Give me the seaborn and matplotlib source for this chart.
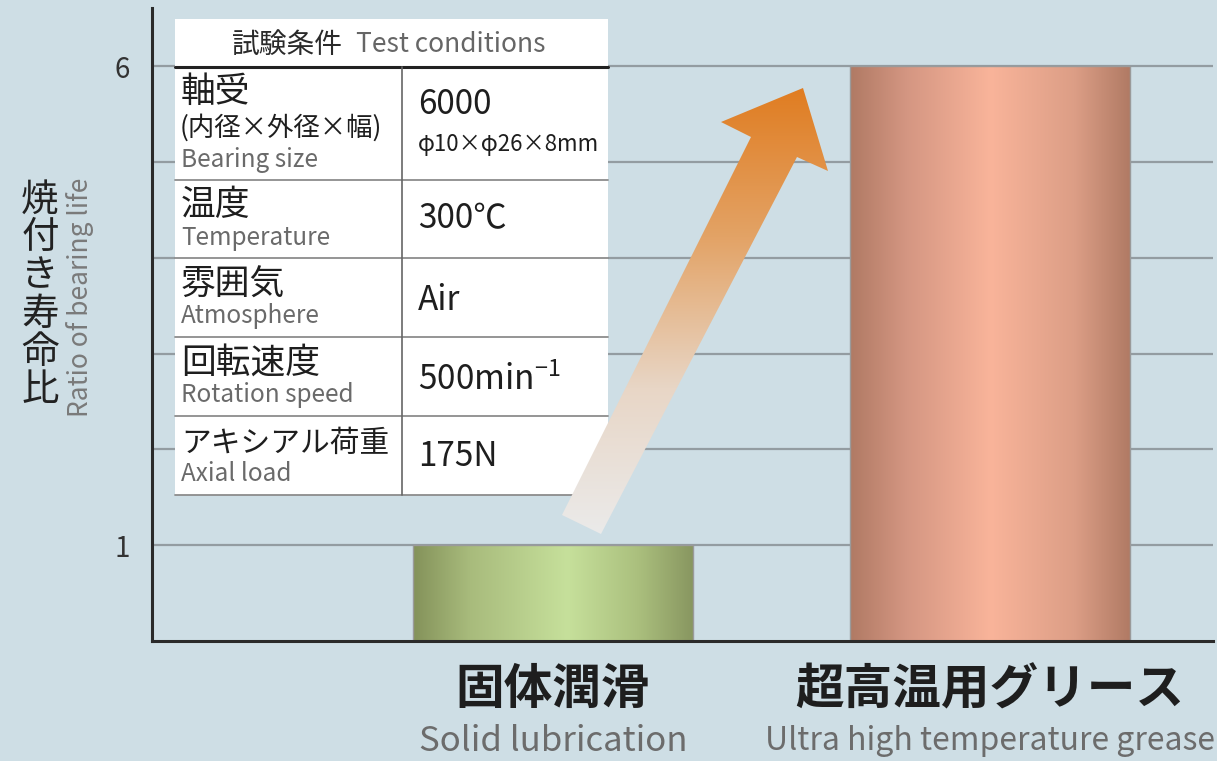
import numpy as np
import pandas as pd
import seaborn as sns
import matplotlib.pyplot as plt
from matplotlib.colors import LinearSegmentedColormap
from matplotlib.patches import Polygon, Rectangle

# データ
cat_jp = ['固体潤滑', '超高温用グリース']
cat_en = ['Solid lubrication', 'Ultra high temperature grease']
ratio = [1, 6]
yticks = [1, 2, 3, 4, 5, 6]
ytick_labels = ['1', '', '', '', '', '6']

cond_jp = ['軸受', '温度', '雰囲気', '回転速度', 'アキシアル荷重']
cond_sub = ['(内径×外径×幅)', '', '', '', '']
cond_en = ['Bearing size', 'Temperature', 'Atmosphere', 'Rotation speed', 'Axial load']
cond_val = ['6000', '300℃', 'Air', '500min$^{\\mathregular{-1}}$', '175N']
cond_val_sub = ['φ10×φ26×8mm', '', '', '', '']

sns.set_style('white')
plt.rcParams['font.family'] = ['Noto Sans CJK JP', 'DejaVu Sans']
plt.rcParams['mathtext.fontset'] = 'custom'
plt.rcParams['mathtext.rm'] = 'Noto Sans CJK JP'

bg = '#cedee5'
fig = plt.figure(figsize=(12.17, 7.61), dpi=100, facecolor=bg)
ax = fig.add_axes([152 / 1217, 120 / 761, 1061 / 1217, 633 / 761])
ax.set_facecolor(bg)

df = pd.DataFrame({'cat': cat_en, 'ratio': ratio})
sns.barplot(data=df, x='cat', y='ratio', width=0.6415, ax=ax,
            edgecolor='#9a9a9a', linewidth=1, zorder=3)

# 円柱風グラデーション
cmaps = [
    LinearSegmentedColormap.from_list('g', [(0, '#84925a'), (0.2, '#a8bb7c'), (0.55, '#c6e09b'),
                                            (0.8, '#abc07e'), (1, '#889660')]),
    LinearSegmentedColormap.from_list('o', [(0, '#b07a64'), (0.2, '#d49682'), (0.5, '#f9b49a'),
                                            (0.8, '#dc9e86'), (1, '#b07a64')]),
]
grad = np.linspace(0, 1, 256).reshape(1, -1)
for p, cm in zip(ax.patches, cmaps):
    x0, y0, w, h = p.get_x(), p.get_y(), p.get_width(), p.get_height()
    p.set_facecolor('none')
    im = ax.imshow(grad, extent=[x0, x0 + w, y0, y0 + h], aspect='auto', cmap=cm, zorder=2.9)
    im.set_clip_path(p)

ax.set_xlim(-0.9187, 1.512)
ax.set_ylim(0, 6.607)
ax.set_yticks(yticks)
ax.set_yticklabels(ytick_labels, fontsize=20, color='#333333')
ax.tick_params(axis='y', length=0, pad=16)
ax.set_xticks([])
ax.set_xlabel('')
ax.set_ylabel('')
for y in yticks:
    ax.axhline(y, color='#939ca1', lw=1.6, zorder=1)
for s in ['top', 'right']:
    ax.spines[s].set_visible(False)
for s in ['left', 'bottom']:
    ax.spines[s].set_color('#2a2a2a')
    ax.spines[s].set_linewidth(2.2)
    ax.spines[s].set_zorder(5)

tr = ax.get_xaxis_transform()
en_sizes = [25, 23]
for i, (j, e) in enumerate(zip(cat_jp, cat_en)):
    ax.text(i, -0.077, j, transform=tr, ha='center', va='center', fontsize=35,
            fontweight='bold', color='#1e1e1e')
    ax.text(i, -0.158, e, transform=tr, ha='center', va='center', fontsize=en_sizes[i],
            color='#6c6c6c')

# 縦軸ラベル
fig.text(40 / 1217, 1 - 295 / 761, '\n'.join('焼付き寿命比'), ha='center', va='center',
         fontsize=27, linespacing=0.97, color='#222222')
fig.text(80 / 1217, 1 - 297 / 761, 'Ratio of bearing life', rotation=90, ha='center',
         va='center', fontsize=19, color='#7a7a7a')

# 試験条件の表 (ピクセル座標のオーバーレイ)
ov = fig.add_axes([0, 0, 1, 1], zorder=10)
ov.set_xlim(0, 1217)
ov.set_ylim(761, 0)
ov.axis('off')
ov.patch.set_alpha(0)

rows = [19, 67, 180, 258, 337, 416, 495]
tx0, tx1, tx2 = 175, 402, 608
ov.add_patch(Rectangle((tx0, rows[0]), tx2 - tx0, rows[-1] - rows[0], facecolor='white',
                       edgecolor='none'))
ov.plot([tx0, tx2], [rows[1], rows[1]], color='#222222', lw=2.2)
for r in rows[2:]:
    ov.plot([tx0, tx2], [r, r], color='#8c8c8c', lw=1.3)
ov.plot([tx1, tx1], [rows[1], rows[-1]], color='#666666', lw=1.2)

ov.text(343, 45, '試験条件', ha='right', va='center', fontsize=20, color='#2a2a2a')
ov.text(356, 45, 'Test conditions', ha='left', va='center', fontsize=19, color='#666666')

jp_y = [92, 206, 285, 363, 443]
en_y = [160, 238, 316, 395, 474]
val_y = [104, 219, 300, 381, 456]
fig.canvas.draw()
rend = fig.canvas.get_renderer()
for k in range(len(cond_jp)):
    t = ov.text(181, jp_y[k], cond_jp[k], ha='left', va='center', fontsize=25, color='#1e1e1e')
    wpx = t.get_window_extent(rend).width
    if wpx > 208:
        t.set_fontsize(25 * 208 / wpx)
    ov.text(181, en_y[k], cond_en[k], ha='left', va='center', fontsize=17.5, color='#6a6a6a')
    ov.text(418, val_y[k], cond_val[k], ha='left', va='center', fontsize=24, color='#1e1e1e')
    if cond_sub[k]:
        ov.text(180, 128, cond_sub[k], ha='left', va='center', fontsize=19, color='#1e1e1e')
    if cond_val_sub[k]:
        ov.text(418, 145, cond_val_sub[k], ha='left', va='center', fontsize=16, color='#1e1e1e')

# グラデーション矢印
arrow_pts = [(562, 515), (601, 534), (797, 157), (828, 171), (803, 88), (721, 122), (751, 137)]
arrow = Polygon(arrow_pts, closed=True, facecolor='none', edgecolor='none')
ov.add_patch(arrow)
acm = LinearSegmentedColormap.from_list('a', ['#e07c20', '#e3a366', '#e8d6c6', '#ebebeb'])
agrad = np.linspace(0, 1, 256).reshape(-1, 1)
aim = ov.imshow(agrad, extent=[555, 835, 540, 85], aspect='auto', cmap=acm, zorder=11)
aim.set_clip_path(arrow)
ov.set_xlim(0, 1217)
ov.set_ylim(761, 0)

fig.savefig('out.png', dpi=100, facecolor=bg)
